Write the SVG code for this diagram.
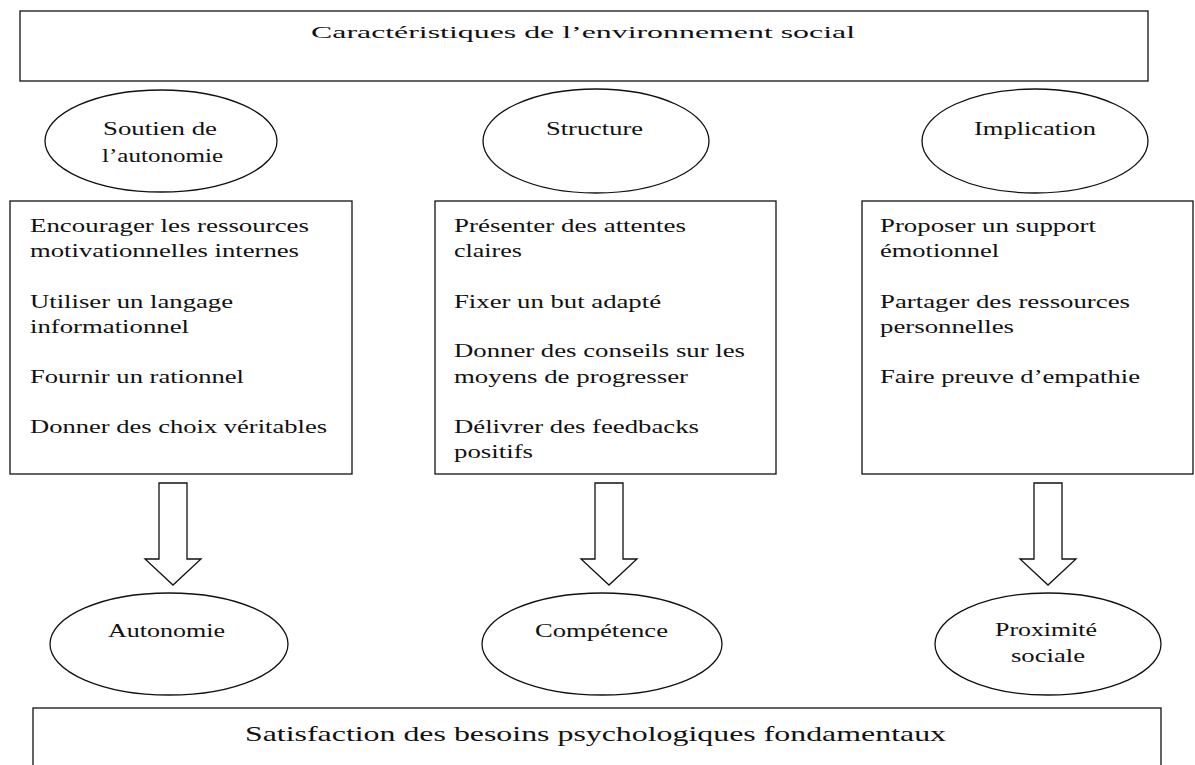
<svg xmlns="http://www.w3.org/2000/svg" width="1195" height="765" viewBox="0 0 1195 765">
<style>
.box{fill:#fff;stroke:#111;stroke-width:1.3}
.ell{fill:#fff;stroke:#111;stroke-width:1.3}
.arr{fill:#fff;stroke:#111;stroke-width:1.3;stroke-linejoin:miter}
text{font-family:"Liberation Serif","Times New Roman",serif;fill:#111}
.t{font-size:17px}
.b{font-size:19px}
.e{font-size:18px}
.s{font-size:21px}
</style>
<rect width="1195" height="765" fill="#fff"/>
<g id="header">
<rect class="box" x="20" y="11" width="1128" height="70"/>
<text class="t" x="311" y="38" textLength="544" lengthAdjust="spacingAndGlyphs">Caractéristiques de l’environnement social</text>
</g>
<g id="soutien">
<ellipse class="ell" cx="161" cy="141" rx="116" ry="51"/>
<text class="e" x="103" y="135" textLength="114" lengthAdjust="spacingAndGlyphs">Soutien de</text>
<text class="e" x="102" y="162" textLength="121" lengthAdjust="spacingAndGlyphs">l’autonomie</text>
</g>
<g id="structure">
<ellipse class="ell" cx="596" cy="141" rx="113" ry="52"/>
<text class="e" x="546" y="135" textLength="97" lengthAdjust="spacingAndGlyphs">Structure</text>
</g>
<g id="implication">
<ellipse class="ell" cx="1035" cy="141" rx="113" ry="52"/>
<text class="e" x="974" y="135" textLength="122" lengthAdjust="spacingAndGlyphs">Implication</text>
</g>
<g id="box-autonomie">
<rect class="box" x="10" y="201" width="342" height="273"/>
<text class="b" x="30" y="232" textLength="279" lengthAdjust="spacingAndGlyphs">Encourager les ressources</text>
<text class="b" x="30" y="257" textLength="269" lengthAdjust="spacingAndGlyphs">motivationnelles internes</text>
<text class="b" x="30" y="308" textLength="203" lengthAdjust="spacingAndGlyphs">Utiliser un langage</text>
<text class="b" x="30" y="333" textLength="159" lengthAdjust="spacingAndGlyphs">informationnel</text>
<text class="b" x="30" y="383" textLength="214" lengthAdjust="spacingAndGlyphs">Fournir un rationnel</text>
<text class="b" x="30" y="433" textLength="297" lengthAdjust="spacingAndGlyphs">Donner des choix véritables</text>
</g>
<g id="box-structure">
<rect class="box" x="435" y="201" width="341" height="273"/>
<text class="b" x="454" y="232" textLength="232" lengthAdjust="spacingAndGlyphs">Présenter des attentes</text>
<text class="b" x="454" y="257" textLength="68" lengthAdjust="spacingAndGlyphs">claires</text>
<text class="b" x="454" y="308" textLength="207" lengthAdjust="spacingAndGlyphs">Fixer un but adapté</text>
<text class="b" x="454" y="357" textLength="291" lengthAdjust="spacingAndGlyphs">Donner des conseils sur les</text>
<text class="b" x="454" y="383" textLength="234" lengthAdjust="spacingAndGlyphs">moyens de progresser</text>
<text class="b" x="454" y="433" textLength="245" lengthAdjust="spacingAndGlyphs">Délivrer des feedbacks</text>
<text class="b" x="454" y="458" textLength="79" lengthAdjust="spacingAndGlyphs">positifs</text>
</g>
<g id="box-implication">
<rect class="box" x="862" y="201" width="331" height="273"/>
<text class="b" x="880" y="232" textLength="216" lengthAdjust="spacingAndGlyphs">Proposer un support</text>
<text class="b" x="880" y="257" textLength="119" lengthAdjust="spacingAndGlyphs">émotionnel</text>
<text class="b" x="880" y="308" textLength="250" lengthAdjust="spacingAndGlyphs">Partager des ressources</text>
<text class="b" x="880" y="333" textLength="134" lengthAdjust="spacingAndGlyphs">personnelles</text>
<text class="b" x="880" y="383" textLength="260" lengthAdjust="spacingAndGlyphs">Faire preuve d’empathie</text>
</g>
<g id="connectors">
<polygon class="arr" points="159,483 187,483 187,559 201,559 173,585 145,559 159,559"/>
<polygon class="arr" points="595,483 623,483 623,559 637,559 609,585 581,559 595,559"/>
<polygon class="arr" points="1034,483 1062,483 1062,559 1076,559 1048,585 1020,559 1034,559"/>
</g>
<g id="autonomie">
<ellipse class="ell" cx="169" cy="644" rx="119" ry="51"/>
<text class="e" x="108" y="637" textLength="117" lengthAdjust="spacingAndGlyphs">Autonomie</text>
</g>
<g id="competence">
<ellipse class="ell" cx="602" cy="644" rx="120" ry="51"/>
<text class="e" x="535" y="637" textLength="133" lengthAdjust="spacingAndGlyphs">Compétence</text>
</g>
<g id="proximite">
<ellipse class="ell" cx="1048" cy="644" rx="113" ry="51"/>
<text class="e" x="995" y="636" textLength="102" lengthAdjust="spacingAndGlyphs">Proximité</text>
<text class="e" x="1011" y="662" textLength="74" lengthAdjust="spacingAndGlyphs">sociale</text>
</g>
<g id="footer">
<rect class="box" x="33" y="708" width="1128" height="80"/>
<text class="s" x="245" y="741" textLength="701" lengthAdjust="spacingAndGlyphs">Satisfaction des besoins psychologiques fondamentaux</text>
</g>
</svg>
